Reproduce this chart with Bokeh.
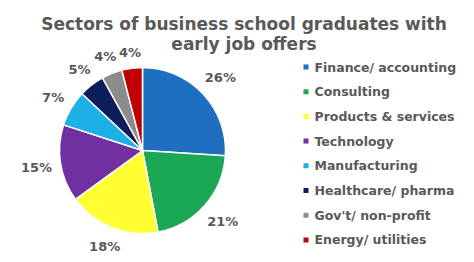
import math
from bokeh.plotting import figure
from bokeh.models import Range1d, ColumnDataSource
from bokeh.core.properties import value
from bokeh.embed import file_html
from bokeh.resources import INLINE

title_lines = ["Sectors of business school graduates with", "early job offers"]
categories = ["Finance/ accounting", "Consulting", "Products & services", "Technology",
              "Manufacturing", "Healthcare/ pharma", "Gov't/ non-profit", "Energy/ utilities"]
shares = [26, 21, 18, 15, 7, 5, 4, 4]
colors = ["#1f6fc0", "#1aa854", "#ffff33", "#7030a0", "#1cb0e6", "#0c1f5a", "#8c8c8c", "#c00000"]

W, H = 474, 262
FONT = "DejaVu Sans"
GRAY = "#595959"

p = figure(width=W, height=H, output_backend="svg", toolbar_location=None,
           x_range=Range1d(0, W), y_range=Range1d(0, H), min_border=0)
p.axis.visible = False
p.grid.visible = False
p.outline_line_color = None
p.background_fill_color = "white"
p.border_fill_color = "white"

cx, cy, R = 142, H - 150, 83
LBL = 13
total = sum(shares)
starts, ends, lx, ly, labels = [], [], [], [], []
cum = 0
for s in shares:
    a0 = math.pi / 2 - 2 * math.pi * cum / total
    a1 = math.pi / 2 - 2 * math.pi * (cum + s) / total
    starts.append(a0)
    ends.append(a1)
    mid = (a0 + a1) / 2
    txt = f"{round(100 * s / total)}%"
    w = (0.696 * (len(txt) - 1) + 1.002) * LBL
    h = LBL
    d = R + 8 + abs(math.cos(mid)) * w / 2 + abs(math.sin(mid)) * h / 2
    lx.append(cx + d * math.cos(mid))
    ly.append(cy + d * math.sin(mid))
    labels.append(txt)
    cum += s

src = ColumnDataSource(dict(start=starts, end=ends, color=colors))
p.wedge(x=cx, y=cy, radius=R, start_angle="start", end_angle="end", direction="clock",
        fill_color="color", line_color="white", line_width=1.5, source=src)

p.text(x=lx, y=ly, text=labels, text_font=value(FONT), text_font_style="bold",
       text_font_size=f"{LBL}px", text_color=GRAY, text_align="center", text_baseline="middle")

# title
p.text(x=[243.5, 243.5], y=[H - 23, H - 43], text=title_lines, text_font=value(FONT),
       text_font_style="bold", text_font_size="17px", text_color=GRAY,
       text_align="center", text_baseline="alphabetic")

# legend
n = len(categories)
ys = [H - (66.5 + i * 24.7) for i in range(n)]
p.rect(x=[305.5] * n, y=ys, width=5, height=5, fill_color=colors, line_color=None)
p.text(x=[314] * n, y=ys, text=categories, text_font=value(FONT), text_font_style="bold",
       text_font_size="12.5px", text_color=GRAY, text_align="left", text_baseline="middle")

open("out.html", "w").write(file_html(p, INLINE))
